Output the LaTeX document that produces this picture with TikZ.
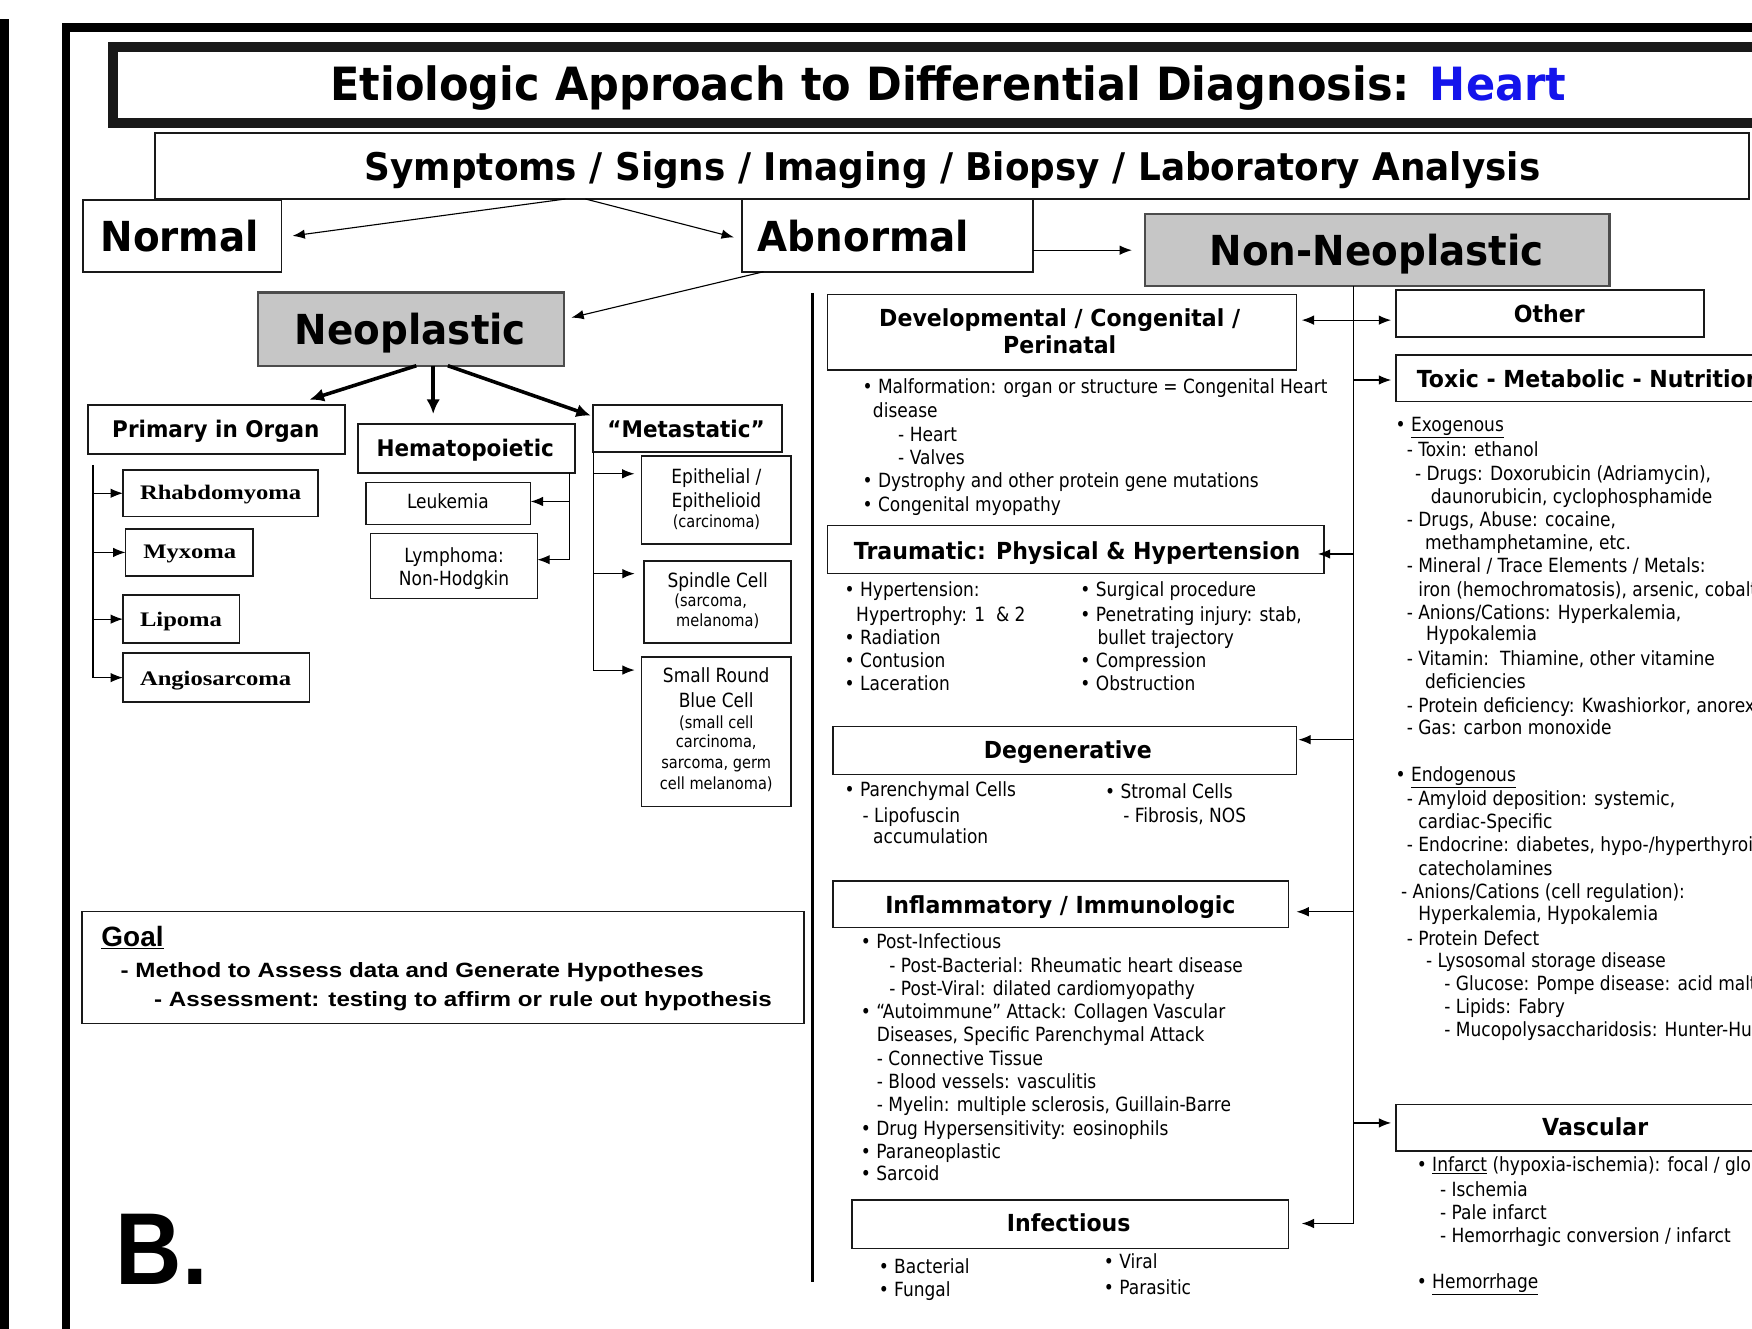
\documentclass[tikz,border=0pt]{standalone}
\usepackage{fontspec}
\setmainfont{DejaVu Sans}
\newfontfamily\fTah[FakeStretch=0.87]{DejaVu Sans}
\newfontfamily\fTahB[FakeStretch=0.94]{DejaVu Sans}
\newfontfamily\fTimes[FakeStretch=1.19]{Liberation Serif}
\newfontfamily\fArS[FakeStretch=1.17]{Liberation Sans}
\newfontfamily\fArN{Liberation Sans}
\newfontfamily\fArB[FakeStretch=0.9]{Liberation Sans}
\usetikzlibrary{arrows.meta}
\definecolor{heartblue}{RGB}{20,20,235}
\definecolor{boxgray}{RGB}{198,198,198}
\newcommand\fsz[1]{\fontsize{#1}{#1}\selectfont}
\newcommand\mkbox[6][]{%
 \pgfmathsetmacro\bw{#4-#2}\pgfmathsetmacro\bh{#5-#3}%
 \pgfmathsetmacro\bcx{(#2+#4)/2}\pgfmathsetmacro\bcy{(#3+#5)/2}%
 \node[bx,#1,minimum width=\bw pt,minimum height=\bh pt] (#6) at (\bcx,\bcy) {};}
\tikzset{
 bx/.style={draw=black!90, line width=1.3pt, inner sep=0pt, outer sep=0pt},
 gbx/.style={fill=boxgray, draw=black!70, line width=2pt},
 tx/.style={anchor=base west, inner sep=0pt, outer sep=0pt, font=\fTah\fsz{17.5}},
 sx/.style={anchor=base, inner sep=0pt, outer sep=0pt, font=\fTah\fsz{17.5}},
 ssx/.style={anchor=base, inner sep=0pt, outer sep=0pt, font=\fTah\fsz{15}},
 hd/.style={anchor=base, inner sep=0pt, outer sep=0pt, font=\fTahB\bfseries\fsz{21}},
 bigt/.style={anchor=base west, inner sep=0pt, outer sep=0pt, font=\fTahB\bfseries\fsz{37}},
 tnx/.style={anchor=base west, inner sep=0pt, outer sep=0pt, font=\fTimes\bfseries\fsz{18.5}},
 gx/.style={anchor=base west, inner sep=0pt, outer sep=0pt, font=\fArS\bfseries\fsz{18.5}},
 arr/.style={-{Latex[length=11pt,width=8.5pt]}, line width=1pt},
 arrb/.style={{Latex[length=11pt,width=8.5pt]}-{Latex[length=11pt,width=8.5pt]}, line width=1pt},
 tarr/.style={-{Latex[length=13pt,width=12pt]}, line width=3.2pt},
 ln/.style={line width=1pt},
}
\begin{document}
\begin{tikzpicture}[x=1pt,y=-1pt]
\useasboundingbox (0,0) rectangle (1568,1189);
\clip (0,0) rectangle (1568,1189);
\fill[white] (0,0) rectangle (1568,1189);
% frames
\fill (0,17) rectangle (7.7,1189);
\draw[line width=7.5pt] (58.8,1200) -- (58.8,24.6) -- (1600,24.6);
\mkbox[line width=9pt]{101.5}{41.8}{1700}{110.4}{titlebox}
\node[anchor=base west, inner sep=0pt, font=\fTahB\bfseries\fsz{41}] (title) at (295.4,89.5) {Etiologic Approach to Differential Diagnosis: \textcolor{heartblue}{Heart}};
\mkbox[line width=1.5pt]{138.7}{119.3}{1565.4}{178.1}{sym}
\node[anchor=base west, inner sep=0pt, font=\fTahB\bfseries\fsz{34.1}] (symt) at (326.3,161.1) {Symptoms / Signs / Imaging / Biopsy / Laboratory Analysis};
% top level boxes
\mkbox[line width=1.5pt]{74.5}{179}{251.8}{243.2}{normal}
\node[bigt] (normalt) at (90,225.3) {Normal};
\mkbox[line width=1.5pt]{663.8}{178.4}{924.6}{243.2}{abnormal}
\node[bigt] (abnormalt) at (678.2,225.3) {Abnormal};
\mkbox[gbx]{1025}{191.8}{1440.5}{256}{nonneo}
\node[bigt] (nonneot) at (1082.6,237.2) {Non-Neoplastic};
\mkbox[gbx]{230.7}{261.8}{504.8}{327.3}{neo}
\node[bigt] (neot) at (264,308.2) {Neoplastic};
% top connectors
\coordinate (s1) at (506,178.1);
\coordinate (s2) at (524,178.1);
\draw[arr] (s1) -- ([xshift=10pt]normal.east);
\draw[arr] (s2) -- ([xshift=-7pt,yshift=-1.6pt]abnormal.west);
\draw[arr] (abnormal.east |- nonneo.west) -- ([xshift=-12pt]nonneo.west);
\coordinate (a1) at (683.3,243.2);
\draw[arr] (a1) -- ([xshift=6.6pt,yshift=10.3pt]neo.east);
% neoplastic branches
\mkbox{78.8}{362.5}{308.8}{406.4}{prim}
\node[hd, font=\fTahB\bfseries\fsz{20.5}] (primt) at (193.2,391.2) {Primary in Organ};
\mkbox{320.5}{379.5}{514.6}{423.4}{hemat}
\node[hd, font=\fTahB\bfseries\fsz{20.5}] (hematt) at (416.4,408.9) {Hematopoietic};
\mkbox{530.8}{362.5}{700}{404.6}{meta}
\node[hd, font=\fTahB\bfseries\fsz{20.5}] (metat) at (614,391.2) {“Metastatic”};
\coordinate (n1) at (372.6,327.3);
\coordinate (n2) at (387.7,327.3);
\coordinate (n3) at (400.8,327.3);
\coordinate (p1) at (277,357.7);
\coordinate (p2) at (387.7,370.5);
\coordinate (p3) at (528.8,372);
\draw[tarr] (n1) -- (p1);
\draw[tarr] (n2) -- (p2);
\draw[tarr] (n3) -- (p3);
% primary in organ
\mkbox{110}{420.7}{284.6}{462.2}{rhab}
\mkbox{112.3}{473.5}{226.4}{515.3}{myx}
\mkbox{110}{532.6}{214.3}{575.6}{lip}
\mkbox{110}{584.6}{277}{628.3}{ang}
\node[tnx] (rhabt) at (125.3,447.2) {Rhabdomyoma};
\node[tnx] (myxt) at (128.3,500) {Myxoma};
\node[tnx] (lipt) at (125.3,560.6) {Lipoma};
\node[tnx] (angt) at (125.3,613.5) {Angiosarcoma};
\coordinate (pt0) at (83.2,416);
\draw[ln] (pt0) -- (pt0 |- ang.west);
\foreach \b in {rhab,myx,lip,ang} \draw[arr] (pt0 |- \b.west) -- (\b.west);
% hematopoietic
\mkbox{327.6}{431.9}{475}{469.5}{leuk}
\mkbox{331.8}{477.6}{481}{535.7}{lymph}
\node[sx] (leukt) at (400.9,455.2) {Leukemia};
\node[sx] (lympht1) at (406.4,503) {Lymphoma:};
\node[sx] (lympht2) at (406.4,524) {Non-Hodgkin};
\coordinate (ht) at (509.3,423.4);
\coordinate (h1) at (509.3,448.8);
\coordinate (h2) at (509.3,500.9);
\draw[ln] (ht) -- (h2);
\draw[arr] (h1) -- (h1 -| leuk.east);
\draw[arr] (h2) -- (h2 -| lymph.east);
% metastatic
\mkbox{574.3}{408}{708}{487}{epi}
\mkbox{576.5}{502}{708}{575.6}{spin}
\mkbox{574}{587.8}{708}{722}{srb}
\node[sx] at (641.2,432.8) {Epithelial /};
\node[sx] at (641.2,454.2) {Epithelioid};
\node[ssx] at (641.2,472.1) {(carcinoma)};
\node[sx] at (642.3,525.4) {Spindle Cell};
\node[ssx] at (636,543) {(sarcoma,};
\node[ssx] at (642.3,560.7) {melanoma)};
\node[sx] at (641,611.2) {Small Round};
\node[sx] at (641,633.6) {Blue Cell};
\node[ssx] at (641,651.8) {(small cell};
\node[ssx] at (641,669.4) {carcinoma,};
\node[ssx] at (641,687.9) {sarcoma, germ};
\node[ssx] at (641,706.2) {cell melanoma)};
\coordinate (mt) at (meta.south west);
\coordinate (m1) at (530.8,424);
\coordinate (m2) at (530.8,513.4);
\coordinate (m3) at (530.8,599.7);
\draw[ln] (mt) -- (m3);
\draw[arr, shorten >=6.5pt] (m1) -- (m1 -| epi.west);
\draw[arr, shorten >=8.5pt] (m2) -- (m2 -| spin.west);
\draw[arr, shorten >=6pt] (m3) -- (m3 -| srb.west);
% divider
\coordinate (d1) at (727,262);
\coordinate (d2) at (727,1147);
\draw[line width=3pt] (d1) -- (d2);
% goal
\mkbox{73.5}{816}{719.5}{916}{goal}
\node[anchor=base west, inner sep=0pt, font=\fArN\bfseries\fsz{25}] (goalt) at (90.6,847) {\underline{Goal}};
\node[gx] at (108,874.5) {- Method to Assess data and Generate Hypotheses};
\node[gx] at (138,901) {- Assessment: testing to affirm or rule out hypothesis};
\node[anchor=base west, inner sep=0pt, font=\fArB\bfseries\fsz{91.5}] (bl) at (103.5,1150) {B.};
% non-neoplastic boxes
\mkbox{740.6}{263.4}{1160.3}{331.2}{dev}
\node[hd] at (948.4,292.2) {Developmental / Congenital /};
\node[hd] at (948.4,316.1) {Perinatal};
\mkbox{740.6}{470.5}{1185}{513.4}{trau}
\node[hd] at (964,500.6) {Traumatic: Physical \& Hypertension};
\mkbox{745.7}{650.2}{1160.3}{693.3}{degen}
\node[hd] at (955.7,679) {Degenerative};
\mkbox{745.7}{788.5}{1153}{830.3}{inflam}
\node[hd] at (949,817.5) {Inflammatory / Immunologic};
\mkbox{762.4}{1074}{1153}{1117.3}{infec}
\node[hd] at (956.5,1102.4) {Infectious};
\mkbox{1249.4}{259.6}{1525.2}{301.7}{other}
\node[hd] at (1386.5,289) {Other};
\mkbox{1249.4}{317.7}{1700}{359.3}{toxic}
\node[hd, anchor=base west] at (1268,346.5) {Toxic - Metabolic - Nutritional};
\mkbox{1249.4}{988.4}{1606}{1030.2}{vasc}
\node[hd] at (1427.6,1015.8) {Vascular};
% trunk
\coordinate (rt) at (1211.5,256);
\coordinate (r0) at (1211.5,286.5);
\coordinate (r1) at (1211.5,340.1);
\coordinate (r2) at (1211.5,495.8);
\coordinate (r3) at (1211.5,662);
\coordinate (r4) at (1211.5,816);
\coordinate (r5) at (1211.5,1005);
\coordinate (r6) at (1211.5,1095);
\coordinate (t2) at (1179.5,495.8);
\draw[arr, shorten >=12pt] (rt) -- (r6) -- (r6 -| infec.east);
\draw[arrb, shorten <=4.7pt, shorten >=4.4pt] (r0 -| dev.east) -- (r0 -| other.west);
\draw[arr, shorten >=4.4pt] (r1) -- (r1 -| toxic.west);
\draw[arr] (r2) -- (t2);
\draw[arr, shorten >=1.7pt] (r3) -- (r3 -| degen.east);
\draw[arr, shorten >=7.3pt] (r4) -- (r4 -| inflam.east);
\draw[arr, shorten >=4.4pt] (r5) -- (r5 -| vasc.west);
% developmental text
\node[tx] at (772,352.3) {• Malformation: organ or structure = Congenital Heart};
\node[tx] at (781.3,373.7) {disease};
\node[tx] at (803.9,395) {- Heart};
\node[tx] at (803.9,415.8) {- Valves};
\node[tx] at (772,436.7) {• Dystrophy and other protein gene mutations};
\node[tx] at (772,457.4) {• Congenital myopathy};
% traumatic text
\node[tx] at (756,533.4) {• Hypertension:};
\node[tx] at (766.3,555.8) {Hypertrophy: 1\ \ \& 2};
\node[tx] at (756,576.7) {• Radiation};
\node[tx] at (756,597.4) {• Contusion};
\node[tx] at (756,617.6) {• Laceration};
\node[tx] at (967,533.4) {• Surgical procedure};
\node[tx] at (967,555.8) {• Penetrating injury: stab,};
\node[tx] at (982.4,576.7) {bullet trajectory};
\node[tx] at (967,597.4) {• Compression};
\node[tx] at (967,617.6) {• Obstruction};
% degenerative text
\node[tx] at (756,713.2) {• Parenchymal Cells};
\node[tx] at (772,735.8) {- Lipofuscin};
\node[tx] at (781.5,754.8) {accumulation};
\node[tx] at (989,714.7) {• Stromal Cells};
\node[tx] at (1005.3,736.5) {- Fibrosis, NOS};
% inflammatory text
\node[tx] at (770.5,848.8) {• Post-Infectious};
\node[tx] at (796,870.5) {- Post-Bacterial: Rheumatic heart disease};
\node[tx] at (796,891.2) {- Post-Viral: dilated cardiomyopathy};
\node[tx] at (770.5,911.4) {• “Autoimmune” Attack: Collagen Vascular};
\node[tx] at (784.8,932.3) {Diseases, Specific Parenchymal Attack};
\node[tx] at (784.8,953.2) {- Connective Tissue};
\node[tx] at (784.8,974) {- Blood vessels: vasculitis};
\node[tx] at (784.8,995) {- Myelin: multiple sclerosis, Guillain-Barre};
\node[tx] at (770.5,1015.8) {• Drug Hypersensitivity: eosinophils};
\node[tx] at (770.5,1036.7) {• Paraneoplastic};
\node[tx] at (770.5,1056.7) {• Sarcoid};
% infectious text
\node[tx] at (786.5,1139.7) {• Bacterial};
\node[tx] at (786.5,1160.5) {• Fungal};
\node[tx] at (988,1135.2) {• Viral};
\node[tx] at (988,1158.2) {• Parasitic};
% toxic text
\node[tx] at (1249,386.5) {• \underline{Exogenous}};
\node[tx] at (1259,408.8) {- Toxin: ethanol};
\node[tx] at (1266.4,429.6) {- Drugs: Doxorubicin (Adriamycin),};
\node[tx] at (1280.5,450.4) {daunorubicin, cyclophosphamide};
\node[tx] at (1259,471.1) {- Drugs, Abuse: cocaine,};
\node[tx] at (1275.4,491.9) {methamphetamine, etc.};
\node[tx] at (1259,512.7) {- Mineral / Trace Elements / Metals:};
\node[tx] at (1269.4,533.5) {iron (hemochromatosis), arsenic, cobalt};
\node[tx] at (1259,554.3) {- Anions/Cations: Hyperkalemia,};
\node[tx] at (1276.3,573.5) {Hypokalemia};
\node[tx] at (1259,595.8) {- Vitamin:\ \ Thiamine, other vitamine};
\node[tx] at (1275.4,616) {deficiencies};
\node[tx] at (1259,637.4) {- Protein deficiency: Kwashiorkor, anorexia};
\node[tx] at (1259,657.2) {- Gas: carbon monoxide};
\node[tx] at (1249,699.7) {• \underline{Endogenous}};
\node[tx] at (1259,721.1) {- Amyloid deposition: systemic,};
\node[tx] at (1269.4,741.3) {cardiac-Specific};
\node[tx] at (1259,762.5) {- Endocrine: diabetes, hypo-/hyperthyroidism,};
\node[tx] at (1269.4,783.1) {catecholamines};
\node[tx] at (1254,804.5) {- Anions/Cations (cell regulation):};
\node[tx] at (1269.4,824) {Hyperkalemia, Hypokalemia};
\node[tx] at (1259,845.8) {- Protein Defect};
\node[tx] at (1276.3,865.8) {- Lysosomal storage disease};
\node[tx] at (1292.7,886.7) {- Glucose: Pompe disease: acid maltase};
\node[tx] at (1292.7,907) {- Lipids: Fabry};
\node[tx] at (1292.7,927.8) {- Mucopolysaccharidosis: Hunter-Hurler};
% vascular text
\node[tx] at (1268,1048.6) {• \underline{Infarct} (hypoxia-ischemia): focal / global};
\node[tx] at (1288.8,1071) {- Ischemia};
\node[tx] at (1288.8,1091.3) {- Pale infarct};
\node[tx] at (1288.8,1112.2) {- Hemorrhagic conversion / infarct};
\node[tx] at (1268,1153) {• \underline{Hemorrhage}};
\end{tikzpicture}
\end{document}
